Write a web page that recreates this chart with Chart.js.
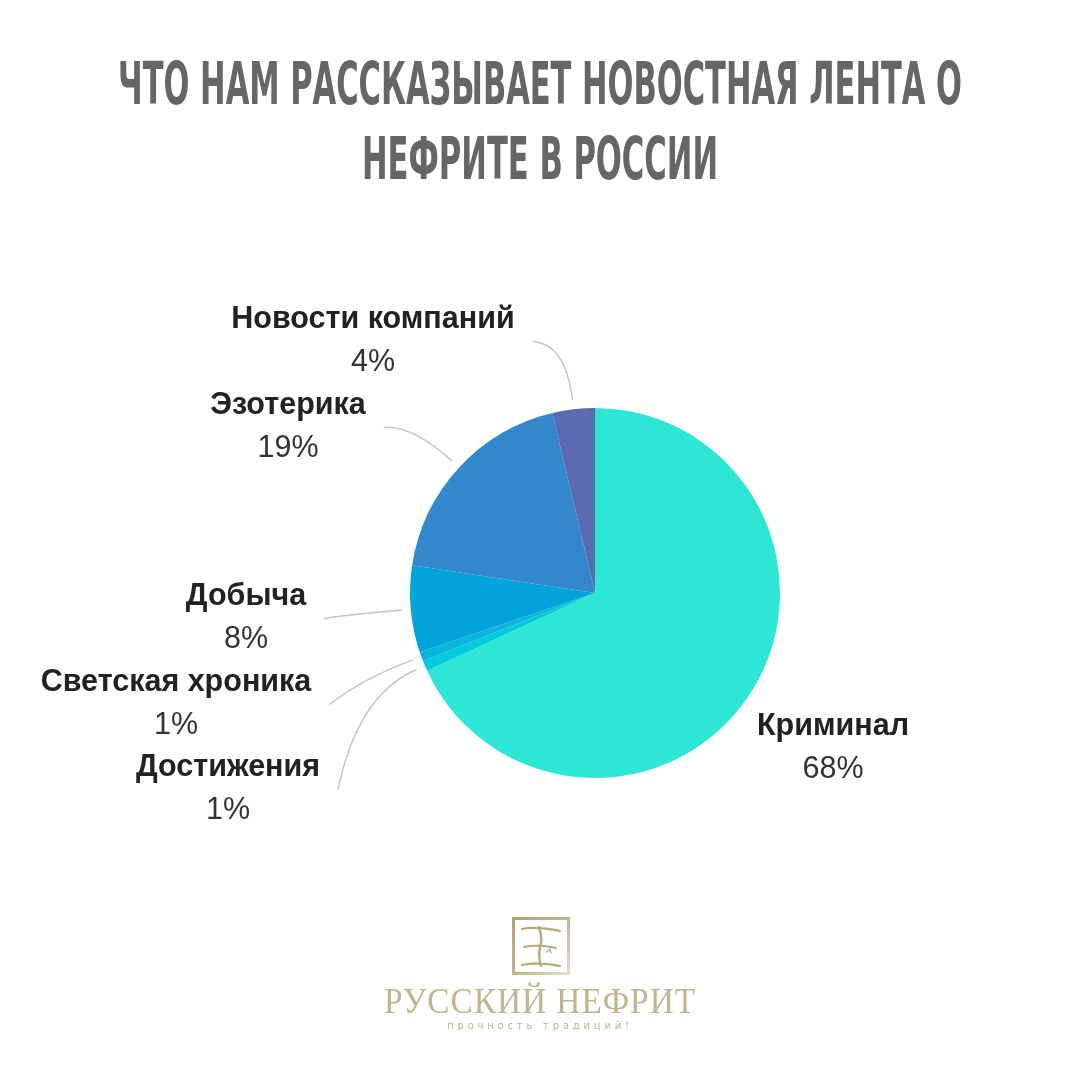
<!DOCTYPE html>
<html lang="ru">
<head>
<meta charset="utf-8">
<title>Что нам рассказывает новостная лента о нефрите в России</title>
<script src="https://cdn.jsdelivr.net/npm/chart.js@4.4.0/dist/chart.umd.min.js"></script>
<style>
  html, body { margin: 0; padding: 0; background: #ffffff; }
  #page { position: relative; width: 1080px; height: 1080px; overflow: hidden; background: #ffffff; }
  #chart { position: absolute; left: 0; top: 0; }
  .line {
    position: absolute; left: 0; width: 1080px; height: 70px; white-space: nowrap;
  }
  .line span {
    position: absolute; left: 540px; top: 0; white-space: nowrap;
    transform-origin: 0 0;
  }
  .title-line span {
    font-family: "DejaVu Sans Condensed", "DejaVu Sans", sans-serif;
    font-weight: bold; font-size: 59px; line-height: 1; color: #666666;
  }
  #brand span {
    font-family: "Liberation Serif", "DejaVu Serif", serif;
    font-size: 35px; line-height: 1; color: #c2b48e; letter-spacing: 1px;
  }
  #motto {
    position: absolute; left: 0; width: 1080px; top: 1021px; text-align: center;
    font-family: "DejaVu Sans", sans-serif; font-size: 10px; line-height: 1;
    letter-spacing: 3.8px; color: #c2b38c; white-space: nowrap;
  }
  #emblem { position: absolute; left: 510px; top: 915px; }
</style>
</head>
<body>
<div id="page">
  <canvas id="chart" width="1080" height="1080"></canvas>
  <div class="line title-line" id="t1" style="top:54px"><span>ЧТО НАМ РАССКАЗЫВАЕТ НОВОСТНАЯ ЛЕНТА О</span></div>
  <div class="line title-line" id="t2" style="top:129px"><span>НЕФРИТЕ В РОССИИ</span></div>

  <svg id="emblem" width="64" height="64" viewBox="0 0 64 64">
    <defs>
      <linearGradient id="gold" x1="0" y1="0" x2="1" y2="1">
        <stop offset="0" stop-color="#b3a277"/>
        <stop offset="0.6" stop-color="#c8ba95"/>
        <stop offset="1" stop-color="#e6ddc8"/>
      </linearGradient>
    </defs>
    <rect x="3.5" y="3.5" width="55" height="55" fill="none" stroke="url(#gold)" stroke-width="3"/>
    <path d="M12 14 Q26 11 50 16" fill="none" stroke="#b9a87e" stroke-width="2.2" stroke-linecap="round"/>
    <path d="M14 32 Q28 29 46 33" fill="none" stroke="#b9a87e" stroke-width="2" stroke-linecap="round"/>
    <path d="M12 50 Q27 47 50 51" fill="none" stroke="#b9a87e" stroke-width="2.2" stroke-linecap="round"/>
    <path d="M29 12 Q33 24 30 32 Q28 42 31 51" fill="none" stroke="#b9a87e" stroke-width="2.4" stroke-linecap="round"/>
    <path d="M37 37 l3 -3 M40 34 l1 4" fill="none" stroke="#b9a87e" stroke-width="1.2" stroke-linecap="round"/>
  </svg>
  <div class="line" id="brand" style="top:984px"><span>РУССКИЙ НЕФРИТ</span></div>
  <div id="motto">прочность традиций!</div>
</div>

<script>
// categories in clockwise order from 12 o'clock
const categories = ['Криминал', 'Достижения', 'Светская хроника', 'Добыча', 'Эзотерика', 'Новости компаний'];
// share of news, %
const shares = [68.1, 0.9, 0.8, 7.6, 18.9, 3.7];
const sliceColors = ['#2ee6d6', '#00cbdc', '#0bb4dc', '#00a3db', '#3388cc', '#5a6bb2'];

// label placement relative to pie centre (layout only)
const labelOffsets = [[238, 134], [-367, 175], [-419, 90], [-349, 4], [-307, -187], [-222, -273]];
const showLeader = [false, true, true, true, true, true];
const bend = [0, 0.45, 0.55, 0.7, 0.7, 0.8];

const outsideLabels = {
  id: 'outsideLabels',
  afterDatasetsDraw(chart) {
    const ctx = chart.ctx;
    const meta = chart.getDatasetMeta(0);
    const values = chart.data.datasets[0].data;
    ctx.save();
    meta.data.forEach((arc, i) => {
      const p = arc.getProps(['x', 'y', 'startAngle', 'endAngle', 'outerRadius'], true);
      const mid = (p.startAngle + p.endAngle) / 2;
      const lx = p.x + labelOffsets[i][0];
      const ly = p.y + labelOffsets[i][1];
      const name = chart.data.labels[i];

      ctx.textAlign = 'center';
      ctx.textBaseline = 'middle';
      ctx.fillStyle = '#222222';
      ctx.font = 'bold 30.5px "Liberation Sans", Arial, sans-serif';
      const w = ctx.measureText(name).width;
      ctx.fillText(name, lx, ly);
      ctx.fillStyle = '#333333';
      ctx.font = '30.5px "Liberation Sans", Arial, sans-serif';
      ctx.fillText(Math.round(values[i]) + '%', lx, ly + 43);

      if (!showLeader[i]) return;
      const r = p.outerRadius + 9;
      const dx = Math.cos(mid), dy = Math.sin(mid);
      const ix = p.x + dx * r, iy = p.y + dy * r;
      const ox = lx + w / 2 + 18, oy = ly + 21.5;
      const dist = Math.hypot(ox - ix, oy - iy);
      const cx = ix + dx * dist * bend[i], cy = iy + dy * dist * bend[i];
      ctx.beginPath();
      ctx.moveTo(ix, iy);
      ctx.quadraticCurveTo(cx, cy, ox, oy);
      ctx.strokeStyle = '#c6c6c6';
      ctx.lineWidth = 1.5;
      ctx.stroke();
    });
    ctx.restore();
  }
};

new Chart(document.getElementById('chart'), {
  type: 'pie',
  data: {
    labels: categories,
    datasets: [{ data: shares, backgroundColor: sliceColors, borderWidth: 0 }]
  },
  options: {
    responsive: false,
    animation: false,
    layout: { padding: { left: 410, right: 300, top: 408, bottom: 302 } },
    plugins: { legend: { display: false }, tooltip: { enabled: false } }
  },
  plugins: [outsideLabels]
});

// fit the condensed headline and brand lines to their widths, centred on the page
function fitLine(id, target) {
  const span = document.querySelector('#' + id + ' span');
  const w = span.offsetWidth;
  if (w > 0) span.style.transform = 'scaleX(' + (target / w) + ') translateX(-50%)';
}
fitLine('t1', 844);
fitLine('t2', 356);
fitLine('brand', 312);
</script>
</body>
</html>
